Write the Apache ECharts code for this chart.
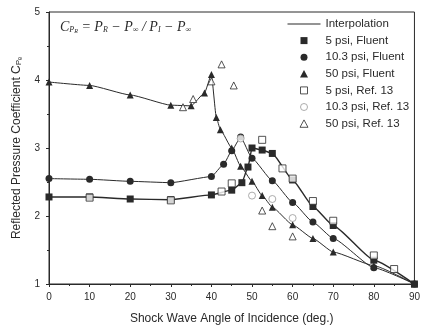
<!DOCTYPE html>
<html><head><meta charset="utf-8">
<script src="https://cdn.jsdelivr.net/npm/echarts@6/dist/echarts.min.js"></script>
<style>html,body{margin:0;padding:0;background:#fff}#c{width:423px;height:330px}</style>
</head><body><div id="c"></div>
<script>
// Fluent (interpolated) series
const x5 = [0,10,20,30,40,45,47.5,49,50,52.5,55,60,65,70,80,90];
const y5 = [2.28,2.28,2.25,2.24,2.31,2.38,2.49,2.72,3.0,2.97,2.92,2.53,2.14,1.86,1.35,1.0];
const x10 = [0,10,20,30,40,43,45,47.2,50,55,60,65,70,80,90];
const y10 = [2.55,2.54,2.51,2.49,2.58,2.76,2.96,3.16,2.85,2.52,2.2,1.91,1.67,1.24,1.0];
const x50 = [0,10,20,30,35,38.3,40,41.2,42.2,45,47.2,50,52.5,55,60,65,70,80,90];
const y50 = [3.97,3.92,3.78,3.63,3.62,3.81,4.08,3.45,3.27,3.0,2.73,2.51,2.3,2.13,1.87,1.67,1.47,1.27,1.0];
// Ref. 13 points
const r5x = [10,30,42.5,45,52.5,57.5,60,65,70,80,85];
const r5y = [2.27,2.23,2.36,2.48,3.12,2.7,2.55,2.22,1.93,1.42,1.22];
const r10x = [47.2,50,55,60];
const r10y = [3.14,2.3,2.25,1.97];
const r50x = [33,35.5,40,42.5,45.5,52.5,55,60];
const r50y = [3.6,3.72,3.98,4.23,3.92,2.08,1.85,1.7];
const xTicks = [0,10,20,30,40,50,60,70,80,90];
const yTicks = [1,2,3,4,5];

const zip = (a,b)=>a.map((v,i)=>[v,b[i]]);
const ink = '#2a2a2a';
const chart = echarts.init(document.getElementById('c'));
const lineSeries = (name, xs, ys, sym, w) => ({
  name, type:'line', data: zip(xs,ys), symbol: sym, symbolSize: 7,
  smooth: 0.15, smoothMonotone: 'x',
  lineStyle:{color:ink, width:w}, itemStyle:{color:ink}, z:3
});
const refSeries = (name, xs, ys, sym, col) => ({
  name, type:'scatter', data: zip(xs,ys), symbol: sym, symbolSize: 7,
  itemStyle:{color:'#fff', borderColor:col, borderWidth:1}, z:4
});
// legend icon paths: 33x8 box, mark centered
const B = 'M0,0 M33,8 ';
const icSq = 'path://' + B + 'M13,0.5h7v7h-7z';
const icCi = 'path://' + B + 'M20,4a3.5,3.5 0 1,1 -7,0a3.5,3.5 0 1,1 7,0z';
const icTr = 'path://' + B + 'M16.5,0.3L20.5,7.7L12.5,7.7z';
const icLn = 'path://M0,3.5h33v1h-33z';
chart.setOption({
  animation:false,
  backgroundColor:'#fff',
  textStyle:{fontFamily:'Liberation Sans', color:ink},
  grid:{left:49, right:4, top:12, bottom:43, show:true, borderColor:ink, borderWidth:1},
  xAxis:{type:'value', min:0, max:90, interval:10,
    name:'Shock Wave Angle of Incidence (deg.)', nameLocation:'middle', nameGap:29,
    nameTextStyle:{fontSize:12, color:ink},
    axisLine:{lineStyle:{color:ink}}, axisTick:{length:3, lineStyle:{color:ink}},
    minorTick:{show:true, splitNumber:2, length:2, lineStyle:{color:ink}},
    axisLabel:{fontSize:10, color:ink, margin:8,
      formatter:v=>xTicks.includes(v)?String(v):''},
    splitLine:{show:false}},
  yAxis:{type:'value', min:1, max:5, interval:1,
    name:'{t|Reflected Pressure Coefficient C}{s|Pₑ}', nameLocation:'middle', nameGap:26,
    nameTextStyle:{rich:{t:{fontSize:12, color:ink}, s:{fontSize:8, color:ink, verticalAlign:'bottom'}}},
    axisLine:{lineStyle:{color:ink}}, axisTick:{length:3, lineStyle:{color:ink}},
    minorTick:{show:true, splitNumber:2, length:2, lineStyle:{color:ink}},
    axisLabel:{fontSize:10, color:ink, margin:9,
      formatter:v=>yTicks.includes(v)?String(v):''},
    splitLine:{show:false}},
  legend:{orient:'vertical', left:282, top:13, itemWidth:33, itemHeight:8, itemGap:4.6,
    textStyle:{fontSize:11.5, color:ink, lineHeight:12, fontFamily:'Liberation Sans'},
    data:[
      {name:'Interpolation', icon:icLn, itemStyle:{color:ink, borderWidth:0}},
      {name:'5 psi, Fluent', icon:icSq, itemStyle:{color:ink, borderWidth:0}},
      {name:'10.3 psi, Fluent', icon:icCi, itemStyle:{color:ink, borderWidth:0}},
      {name:'50 psi, Fluent', icon:icTr, itemStyle:{color:ink, borderWidth:0}},
      {name:'5 psi, Ref. 13', icon:icSq, itemStyle:{color:'#fff', borderColor:ink, borderWidth:1}},
      {name:'10.3 psi, Ref. 13', icon:icCi, itemStyle:{color:'#fff', borderColor:'#999', borderWidth:1}},
      {name:'50 psi, Ref. 13', icon:icTr, itemStyle:{color:'#fff', borderColor:ink, borderWidth:1}}
    ]},
  graphic:[{type:'text', left:60, top:20, style:{
    text:'{i|C}{s|P}{t|R}{i| = P}{s|R}{i| − P}{s|∞}{i| / P}{s|I}{i| − P}{s|∞}',
    rich:{i:{fontFamily:'Liberation Serif', fontStyle:'italic', fontSize:14, fill:ink},
          s:{fontFamily:'Liberation Serif', fontStyle:'italic', fontSize:8, fill:ink, verticalAlign:'bottom'},
          t:{fontFamily:'Liberation Serif', fontStyle:'italic', fontSize:6, fill:ink, verticalAlign:'bottom'}}}}],
  series:[
    {name:'Interpolation', type:'line', data:[], symbol:'none', lineStyle:{color:ink, width:1}, itemStyle:{color:ink}},
    lineSeries('5 psi, Fluent', x5, y5, 'rect', 1.4),
    lineSeries('10.3 psi, Fluent', x10, y10, 'circle', 1),
    lineSeries('50 psi, Fluent', x50, y50, 'triangle', 1),
    refSeries('5 psi, Ref. 13', r5x, r5y, 'rect', ink),
    refSeries('10.3 psi, Ref. 13', r10x, r10y, 'circle', '#999'),
    refSeries('50 psi, Ref. 13', r50x, r50y, 'triangle', ink)
  ]
});
</script></body></html>
